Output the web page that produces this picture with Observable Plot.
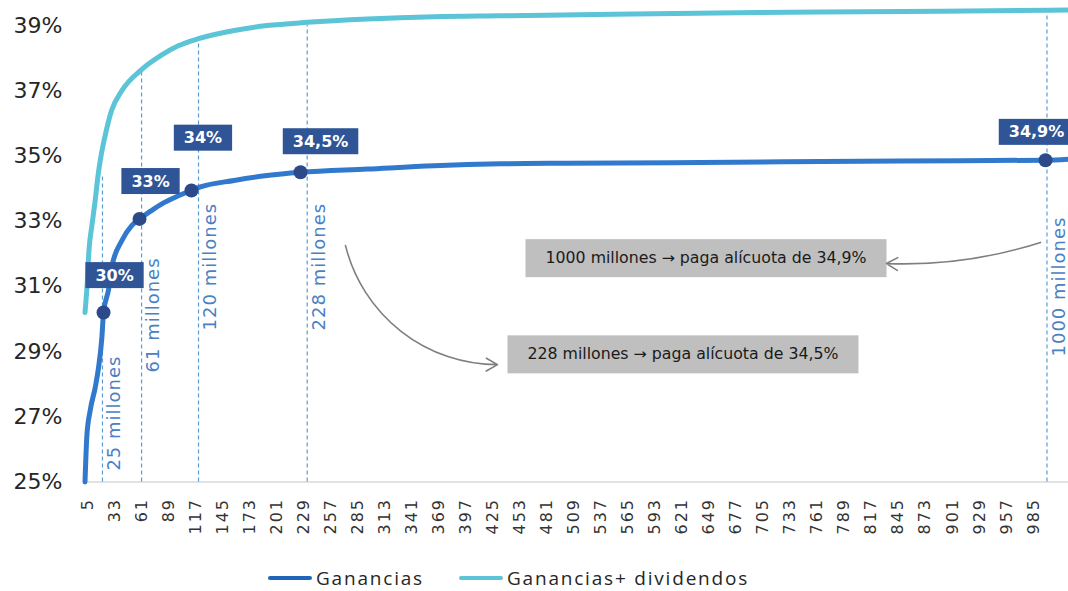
<!DOCTYPE html>
<html><head><meta charset="utf-8">
<script src="https://cdn.jsdelivr.net/npm/d3@7"></script>
<script src="https://cdn.jsdelivr.net/npm/@observablehq/plot@0.6"></script>
<style>
body{margin:0;background:#fff;}
#wrap{position:relative;width:1068px;height:591px;overflow:hidden;background:#fff;}
#legend{position:absolute;left:268px;top:564px;display:flex;align-items:center;font-family:"Open Sans",sans-serif;font-size:19px;letter-spacing:1.8px;color:#262626;line-height:28px;}
#legend .sw{width:44px;height:4px;border-radius:2px;margin-right:4px;}
#legend .item{display:flex;align-items:center;margin-right:35px;}
</style></head><body>
<div id="wrap"><div id="chart"></div><div id="legend"></div></div>
<script>
// ---- data ----
const seriesNames = ["Ganancias", "Ganancias+ dividendos"];
const seriesColors = ["#3179cc", "#5cc4d7"];

const ganX = [2.4, 3.2, 4.3, 7.8, 13, 16.4, 19.8, 21.6, 26.8, 30.2, 40.5, 51, 58.9, 70, 82, 97, 112.7, 122, 157, 191, 225.7, 295, 364, 433, 500, 640, 847, 997.5, 1021];
const ganY = [25.0, 25.66, 26.4, 27.2, 27.9, 28.5, 29.4, 30.2, 30.9, 31.6, 32.4, 32.87, 33.07, 33.3, 33.53, 33.75, 33.94, 34.05, 34.25, 34.4, 34.5, 34.6, 34.7, 34.76, 34.78, 34.8, 34.85, 34.87, 34.9];

const divX = [2.4, 4.5, 6.5, 9.7, 12.8, 15.9, 19, 23.1, 30, 40.5, 61, 82, 99, 120, 157, 191, 233, 295, 364, 433, 550, 700, 850, 1000, 1021];
const divY = [30.2, 31.0, 32.1, 32.9, 33.6, 34.4, 35.0, 35.6, 36.4, 37.0, 37.65, 38.1, 38.38, 38.6, 38.85, 39.0, 39.1, 39.2, 39.27, 39.3, 39.35, 39.4, 39.43, 39.47, 39.48];

const markX = [21.6, 58.9, 112.7, 225.7, 997.5];
const markY = [30.2, 33.07, 33.94, 34.5, 34.87];
const markLabels = ["30%", "33%", "34%", "34,5%", "34,9%"];

const refX = [20.5, 61, 120, 232.6, 999];
const refTop = [34.4, 37.6, 38.5, 39.0, 39.3];
const refLabels = ["25 millones", "61 millones", "120 millones", "228 millones", "1000 millones"];

const noteTexts = ["1000 millones \u2192 paga al\u00edcuota de 34,9%", "228 millones \u2192 paga al\u00edcuota de 34,5%"];

const xTicks = [5,33,61,89,117,145,173,201,229,257,285,313,341,369,397,425,453,481,509,537,565,593,621,649,677,705,733,761,789,817,845,873,901,929,957,985];
const yTicks = [25,27,29,31,33,35,37,39];

// ---- layout (annotation placement, not data) ----
const refLabelY = [25.35, 28.36, 29.65, 29.65, 28.85];
const labDx = [11, 11, 11.5, 20, -9];
const labDy = [-37, -37.5, -52.5, -30.7, -28];
const noteX = [479.5, 460.8];
const noteY = [31.86, 28.91];
const noteLen = [321, 311];
const arrowPts = [
  {x1: 992.3, y1: 32.35, x2: 832.7, y2: 31.70, bend: 10},
  {x1: 272.3, y1: 32.25, x2: 429.7, y2: 28.6, bend: -38}
];

// ---- tables ----
const gan = ganX.map((x, i) => ({x, y: ganY[i]}));
const div = divX.map((x, i) => ({x, y: divY[i]}));
const pts = markX.map((x, i) => ({x, y: markY[i], label: markLabels[i]}));
const refs = refX.map((x, i) => ({x, top: refTop[i], label: refLabels[i], ly: refLabelY[i]}));
const notes = noteTexts.map((t, i) => ({x: noteX[i], y: noteY[i], text: t}));

const chart = Plot.plot({
  width: 1068, height: 545,
  marginLeft: 83.5, marginRight: 0, marginTop: 0, marginBottom: 63.5,
  x: {domain: [1.37, 1021.3]},
  y: {domain: [25, 39.77]},
  style: {fontFamily: "DejaVu Sans, sans-serif", background: "white", overflow: "visible"},
  marks: [
    Plot.axisX(xTicks, {tickRotate: -90, tickSize: 0, tickPadding: 16, fontSize: 16, fill: "#333", tickFormat: d => String(d), label: null}),
    Plot.axisY(yTicks, {tickSize: 0, tickPadding: 21.5, fontSize: 22, fill: "#262626", tickFormat: d => d + "%", label: null}),
    Plot.ruleY([25], {stroke: "#d9d9d9", strokeWidth: 1.5}),
    Plot.ruleX(refs, {x: "x", y1: 25, y2: "top", stroke: "#5b9bd5", strokeWidth: 1.2, strokeDasharray: "4,3"}),
    Plot.line(div, {x: "x", y: "y", stroke: seriesColors[1], strokeWidth: 5, curve: "monotone-x"}),
    Plot.line(gan, {x: "x", y: "y", stroke: seriesColors[0], strokeWidth: 5, curve: "monotone-x"}),
    Plot.dot(pts, {x: "x", y: "y", r: 7, fill: "#2c4a8a"}),
    Plot.text(refs, {x: "x", y: "ly", text: "label", rotate: -90, textAnchor: "start", dx: 12, fontSize: 18, fill: "#4a80c4", className: "reflab"}),
    ...pts.map((p, i) => Plot.text([p], {x: "x", y: "y", text: "label", dx: labDx[i], dy: labDy[i], fontSize: 16, fontWeight: "bold", fill: "white", className: "vlab"})),
    Plot.text(notes, {x: "x", y: "y", text: "text", textAnchor: "start", fontSize: 15, fill: "#1a1a1a", className: "note"}),
    ...arrowPts.map(a => Plot.arrow([a], {x1: "x1", y1: "y1", x2: "x2", y2: "y2", bend: a.bend, stroke: "#7f7f7f", strokeWidth: 1.6, headLength: 12}))
  ]
});
document.getElementById("chart").appendChild(chart);

// letter spacing for tick labels
d3.select(chart).selectAll('g[aria-label="x-axis tick label"] text').style("letter-spacing", "2px");
d3.select(chart).selectAll('g.reflab text').style("letter-spacing", "1px");

// background boxes behind value labels
d3.select(chart).selectAll("g.vlab text").each(function() {
  const b = this.getBBox();
  const r = document.createElementNS("http://www.w3.org/2000/svg", "rect");
  r.setAttribute("x", b.x - 10); r.setAttribute("width", b.width + 20);
  r.setAttribute("y", b.y + b.height / 2 - 13); r.setAttribute("height", 26);
  r.setAttribute("fill", "#2f5597");
  const t = this.getAttribute("transform"); if (t) r.setAttribute("transform", t);
  this.parentNode.insertBefore(r, this);
});
// grey note boxes
d3.select(chart).selectAll("g.note text").each(function(d, i) {
  this.setAttribute("textLength", noteLen[i]);
  this.setAttribute("lengthAdjust", "spacingAndGlyphs");
  const b = this.getBBox();
  const r = document.createElementNS("http://www.w3.org/2000/svg", "rect");
  r.setAttribute("x", b.x - 20); r.setAttribute("width", b.width + 40);
  r.setAttribute("y", b.y + b.height / 2 - 19); r.setAttribute("height", 38);
  r.setAttribute("fill", "#bfbfbf");
  const t = this.getAttribute("transform"); if (t) r.setAttribute("transform", t);
  this.parentNode.insertBefore(r, this);
});

// legend
const lg = d3.select("#legend");
seriesNames.forEach((n, i) => {
  const it = lg.append("div").attr("class", "item");
  it.append("div").attr("class", "sw").style("background", i === 0 ? "#1f66b8" : seriesColors[1]);
  it.append("span").text(n);
});
</script>
</body></html>
